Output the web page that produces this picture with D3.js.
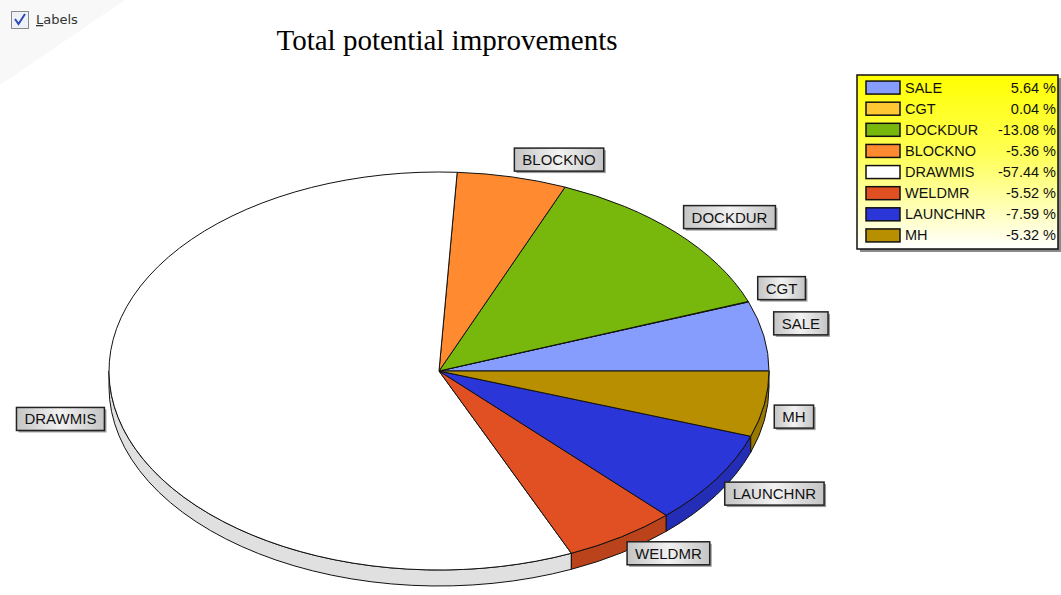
<html>
<head>
  <meta charset="utf-8">
  <script src="https://unpkg.com/d3@7/dist/d3.min.js"></script>
  <style>
    body { margin: 0; background: #fff; }
  </style>
</head>
<body>
  <svg id="container" width="1061" height="595"></svg>
<script>
    const categories = ['SALE', 'CGT', 'DOCKDUR', 'BLOCKNO', 'DRAWMIS', 'WELDMR', 'LAUNCHNR', 'MH'];
    const values = [5.64, 0.04, -13.08, -5.36, -57.44, -5.52, -7.59, -5.32];
    const colors = ['#879dfd', '#ffc832', '#78b80c', '#ff8a30', '#ffffff', '#e05022', '#2a36d8', '#b88f00'];

    const sample = categories.map((c, i) => ({name: c, value: values[i], color: colors[i]}));

    const svg = d3.select('#container');
    const cx = 439, cy = 371, rx = 330, ry = 199, depth = 16;

    const defs = svg.append('defs');
    const lg = defs.append('linearGradient').attr('id', 'legendGrad')
      .attr('x1', 0).attr('y1', 0).attr('x2', 0).attr('y2', 1);
    lg.append('stop').attr('offset', '0%').attr('stop-color', '#ffff00');
    lg.append('stop').attr('offset', '45%').attr('stop-color', '#ffff55');
    lg.append('stop').attr('offset', '100%').attr('stop-color', '#ffffff');
    const bg = defs.append('linearGradient').attr('id', 'boxGrad')
      .attr('x1', 0).attr('y1', 0).attr('x2', 1).attr('y2', 0);
    bg.append('stop').attr('offset', '0%').attr('stop-color', '#c4c4c4');
    bg.append('stop').attr('offset', '50%').attr('stop-color', '#f2f2f2');
    bg.append('stop').attr('offset', '100%').attr('stop-color', '#c4c4c4');

    // faint window background in the top-left corner
    svg.append('path').attr('d', 'M0,0 L125,0 L0,85 Z').attr('fill', '#f8f8f8');

    // checkbox
    const cb = svg.append('g');
    cb.append('rect').attr('x', 11.5).attr('y', 11.5).attr('width', 17).attr('height', 17)
      .attr('fill', '#eef2f8').attr('stroke', '#8a8a8a');
    cb.append('path').attr('d', 'M15,19 L18.5,24 L25,14').attr('fill', 'none')
      .attr('stroke', '#2c49b8').attr('stroke-width', 2);
    const lt = cb.append('text').attr('x', 36).attr('y', 24)
      .attr('font-family', 'DejaVu Sans, sans-serif').attr('font-size', 13).attr('fill', '#333');
    lt.append('tspan').attr('text-decoration', 'underline').text('L');
    lt.append('tspan').text('abels');

    // title
    svg.append('text').attr('x', 447).attr('y', 50).attr('text-anchor', 'middle')
      .attr('font-family', 'Liberation Serif, Times New Roman, serif').attr('font-size', 29)
      .attr('fill', '#000').text('Total potential improvements');

    const pie = d3.pie().sort(null).value(d => Math.abs(d.value)).startAngle(0).endAngle(2 * Math.PI);
    const arcs = pie(sample);

    const pt = (a, dy = 0) => [cx + rx * Math.cos(a), cy - ry * Math.sin(a) + dy];

    // side walls (front half only)
    const sideG = svg.append('g');
    arcs.forEach(d => {
      const a0 = Math.max(d.startAngle, Math.PI);
      const a1 = Math.min(d.endAngle, 2 * Math.PI);
      if (a1 <= a0) return;
      const p0 = pt(a0), p1 = pt(a1), q1 = pt(a1, depth), q0 = pt(a0, depth);
      const path = `M${p0} A${rx},${ry} 0 0 0 ${p1} L${q1} A${rx},${ry} 0 0 1 ${q0} Z`;
      sideG.append('path').attr('d', path)
        .attr('fill', d.data.color === '#ffffff' ? '#e0e0e0' : d3.color(d.data.color).darker(0.5))
        .attr('stroke', '#111').attr('stroke-width', 1);
    });

    // top faces
    const topG = svg.append('g');
    topG.selectAll('path').data(arcs).enter().append('path')
      .attr('d', d => {
        const p0 = pt(d.startAngle), p1 = pt(d.endAngle);
        const large = d.endAngle - d.startAngle > Math.PI ? 1 : 0;
        return `M${cx},${cy} L${p0} A${rx},${ry} 0 ${large} 0 ${p1} Z`;
      })
      .attr('fill', d => d.data.color)
      .attr('stroke', '#111').attr('stroke-width', 1).attr('stroke-linejoin', 'round');

    // slice labels
    const labels = svg.append('g').attr('font-family', 'Liberation Sans, Arial, sans-serif').attr('font-size', 15);
    arcs.forEach(d => {
      const mid = (d.startAngle + d.endAngle) / 2;
      const ax = cx + (rx + 10) * Math.cos(mid);
      const ay = cy - (ry + 6) * Math.sin(mid);
      const g = labels.append('g');
      const t = g.append('text').text(d.data.name).attr('fill', '#111');
      const w = t.node().getComputedTextLength() + 16;
      const h = 23;
      const x = Math.cos(mid) >= 0 ? ax : ax - w;
      const y = Math.sin(mid) >= 0 ? ay - h : ay;
      g.insert('rect', 'text').attr('x', x + 2).attr('y', y + 2).attr('width', w).attr('height', h)
        .attr('fill', '#9a9a9a');
      g.insert('rect', 'text').attr('x', x).attr('y', y).attr('width', w).attr('height', h)
        .attr('fill', 'url(#boxGrad)').attr('stroke', '#222').attr('stroke-width', 1.5);
      t.attr('x', x + w / 2).attr('y', y + 17).attr('text-anchor', 'middle');
    });

    // legend
    const legX = 857, legY = 75, legW = 201, legH = 174;
    const leg = svg.append('g');
    leg.append('rect').attr('x', legX + 3).attr('y', legY + 3).attr('width', legW).attr('height', legH)
      .attr('fill', '#8a8a8a');
    leg.append('rect').attr('x', legX).attr('y', legY).attr('width', legW).attr('height', legH)
      .attr('fill', 'url(#legendGrad)').attr('stroke', '#111').attr('stroke-width', 1.5);
    const rowY = d3.scaleBand().domain(categories).range([legY + 2, legY + legH - 3]);
    const rows = leg.selectAll('g.row').data(sample).enter().append('g')
      .attr('transform', d => `translate(0, ${rowY(d.name) + rowY.bandwidth() / 2})`);
    rows.append('rect').attr('x', 866).attr('y', -6.5).attr('width', 34).attr('height', 13)
      .attr('fill', d => d.color).attr('stroke', '#111').attr('stroke-width', 1.5);
    rows.append('text').attr('x', 905).attr('y', 5)
      .attr('font-family', 'Liberation Sans, Arial, sans-serif').attr('font-size', 14.5).attr('fill', '#111')
      .text(d => d.name);
    rows.append('text').attr('x', 1056).attr('y', 5).attr('text-anchor', 'end')
      .attr('font-family', 'Liberation Sans, Arial, sans-serif').attr('font-size', 14.5).attr('fill', '#111')
      .text(d => d.value.toFixed(2) + ' %');
</script>
</body>
</html>
